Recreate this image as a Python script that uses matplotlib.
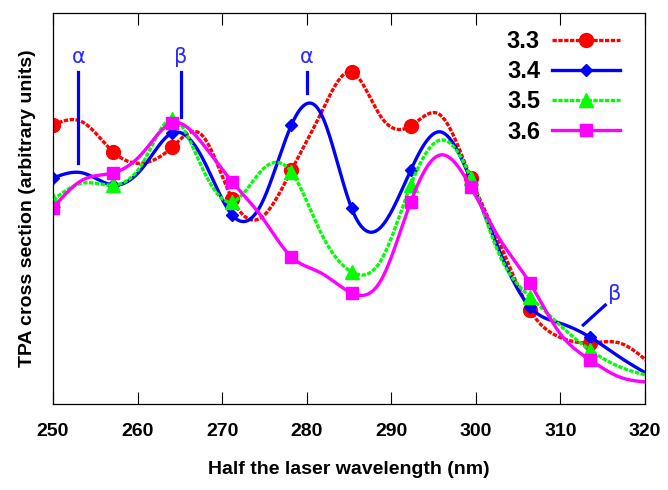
import numpy as np
import matplotlib
matplotlib.use('Agg')
import matplotlib.pyplot as plt

# half the laser wavelength (nm), curve read every ~3.5 nm; markers every second point
wl = [250.0, 253.5, 257.1, 260.6, 264.1, 267.6, 271.2, 274.7, 278.2, 281.7,
      285.3, 288.8, 292.3, 295.8, 299.4, 302.9, 306.4, 309.9, 313.5, 317.0, 320.5]

# TPA cross section (arbitrary units)
tpa_33 = [7.14, 7.21, 6.45, 6.16, 6.57, 6.88, 5.24, 4.78, 5.98, 7.44, 8.49,
          7.34, 7.11, 7.39, 5.78, 4.07, 2.40, 1.71, 1.56, 1.56, 1.05]
tpa_34 = [5.78, 5.91, 5.60, 6.04, 6.93, 6.32, 4.83, 5.14, 7.14, 7.42, 5.01,
          4.53, 5.98, 6.96, 5.73, 3.86, 2.48, 2.07, 1.71, 1.20, 0.74]
tpa_35 = [5.22, 5.65, 5.60, 6.16, 7.29, 6.06, 5.17, 5.98, 5.93, 4.37, 3.38,
          3.68, 5.60, 6.75, 5.78, 3.76, 2.74, 2.02, 1.38, 0.95, 0.72]
tpa_36 = [5.01, 5.73, 5.91, 6.42, 7.19, 6.68, 5.68, 4.78, 3.76, 3.35, 2.84,
          3.17, 5.17, 6.37, 5.55, 4.19, 3.09, 1.82, 1.13, 0.69, 0.56]

labels = ['3.3', '3.4', '3.5', '3.6']
xticks = [250, 260, 270, 280, 290, 300, 310, 320]

# peak assignments: (text, x, y of text, line x0, y0, x1, y1)
notes = [('α', 253.0, 8.62, 253.0, 8.49, 253.0, 6.16),
         ('β', 265.1, 8.62, 265.1, 8.49, 265.1, 7.34),
         ('α', 280.0, 8.62, 280.0, 8.49, 280.0, 7.95),
         ('β', 316.4, 2.55, 315.3, 2.53, 312.7, 2.02)]


def spline(x, y, xs):
    # natural cubic spline, like gnuplot "smooth csplines"
    x = np.asarray(x, float)
    y = np.asarray(y, float)
    n = len(x)
    h = np.diff(x)
    A = np.zeros((n, n))
    r = np.zeros(n)
    A[0, 0] = A[-1, -1] = 1
    for i in range(1, n - 1):
        A[i, i - 1] = h[i - 1]
        A[i, i] = 2 * (h[i - 1] + h[i])
        A[i, i + 1] = h[i]
        r[i] = 3 * ((y[i + 1] - y[i]) / h[i] - (y[i] - y[i - 1]) / h[i - 1])
    c = np.linalg.solve(A, r)
    b = (y[1:] - y[:-1]) / h - h * (2 * c[:-1] + c[1:]) / 3
    d = (c[1:] - c[:-1]) / (3 * h)
    k = np.clip(np.searchsorted(x, xs) - 1, 0, n - 2)
    t = xs - x[k]
    return y[k] + b[k] * t + c[k] * t ** 2 + d[k] * t ** 3


plt.rcParams['font.family'] = ['Liberation Sans', 'DejaVu Sans']
plt.rcParams['font.weight'] = 'bold'
plt.rcParams['axes.labelweight'] = 'bold'

fig = plt.figure(figsize=(6.68, 4.9), dpi=100)
ax = fig.add_axes([0.0793, 0.1755, 0.8863, 0.798])

styles = [(tpa_33, '#ff0000', 'o', 10, (1.3, 0.45)),
          (tpa_34, '#0000ff', 'D', 6, None),
          (tpa_35, '#00ff00', '^', 10, (1.3, 0.45)),
          (tpa_36, '#ff00ff', 's', 8, None)]

xs = np.linspace(wl[0], wl[-1], 600)
for (vals, col, mk, ms, dash), lab in zip(styles, labels):
    ys = spline(wl, vals, xs)
    ln, = ax.plot(xs, ys, color=col, lw=2.4)
    if dash:
        ln.set_dashes(dash)
    ax.plot(wl[0:19:2], vals[0:19:2], ls='none', marker=mk, ms=ms, color=col)
    # legend proxy
    h, = ax.plot([], [], color=col, lw=2.4, marker=mk, ms=ms, label=lab)
    if dash:
        h.set_dashes(dash)

for txt, tx, ty, x0, y0, x1, y1 in notes:
    ax.plot([x0, x1], [y0, y1], color='#0000ff', lw=2.3)
    ax.text(tx, ty, txt, color='#2a2aff', fontsize=15, fontweight='normal',
            family=['DejaVu Sans'], ha='center', va='bottom')

ax.set_xlim(250, 320)
ax.set_ylim(0, 10)
ax.set_xticks(xticks)
ax.set_yticks([])
ax.tick_params(axis='x', direction='in', length=8.5, width=0.8, top=True,
               labelsize=14, pad=14)
for s in ax.spines.values():
    s.set_linewidth(0.9)

ax.set_xlabel('Half the laser wavelength (nm)', fontsize=14, labelpad=15)
ax.set_ylabel('TPA cross section (arbitrary units)', fontsize=14, labelpad=12)

ax.legend(loc='upper right', frameon=False, markerfirst=False, fontsize=17,
          handlelength=2.9, handletextpad=0.5, labelspacing=0.3,
          borderaxespad=0.3, bbox_to_anchor=(0.986, 0.998))

fig.savefig('out.png', dpi=100)
